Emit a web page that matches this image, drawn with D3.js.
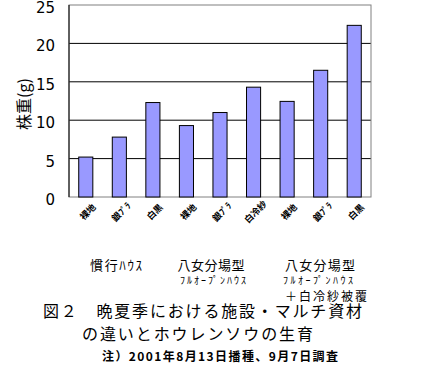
<!DOCTYPE html>
<html lang="ja">
<head>
<meta charset="UTF-8"/>
<script src="https://d3js.org/d3.v7.min.js"></script>
<style>
  body { margin: 0; background: #fff; }
  svg { display: block; font-family: "Noto Sans CJK JP", sans-serif; }
</style>
</head>
<body>
<svg id="chart" width="425" height="369"></svg>
<script>
// data
const categories = ["裸地", "銀ﾌﾟﾗ", "白黒", "裸地", "銀ﾌﾟﾗ", "白冷紗", "裸地", "銀ﾌﾟﾗ", "白黒"];
const values = [5.2, 7.8, 12.3, 9.3, 11.0, 14.3, 12.45, 16.5, 22.35];
const yTicks = [0, 5, 10, 15, 20, 25];
const groups = [
  ["慣行ﾊｳｽ"],
  ["八女分場型", "ﾌﾙｵｰﾌﾟﾝﾊｳｽ"],
  ["八女分場型", "ﾌﾙｵｰﾌﾟﾝﾊｳｽ", "＋白冷紗被覆"]
];

const svg = d3.select("#chart");
const pLeft = 69, pRight = 371, pTop = 5, pBottom = 197;

const x = d3.scaleBand().domain(d3.range(categories.length)).range([pLeft, pRight]).paddingInner(0.58).paddingOuter(0.29);
const y = d3.scaleLinear().domain([0, 25]).range([pBottom, pTop]);

// gridlines
svg.append("g").selectAll("line").data(yTicks.filter(d => d > 0 && d < 25)).join("line")
  .attr("x1", pLeft).attr("x2", pRight)
  .attr("y1", d => y(d)).attr("y2", d => y(d))
  .attr("stroke", "#000").attr("stroke-width", 1);

// frame
svg.append("rect").attr("x", pLeft).attr("y", pTop).attr("width", pRight - pLeft).attr("height", pBottom - pTop)
  .attr("fill", "none").attr("stroke", "#808080").attr("stroke-width", 1);
svg.append("line").attr("x1", pLeft).attr("x2", pLeft).attr("y1", pTop).attr("y2", pBottom)
  .attr("stroke", "#000");

// bars
svg.append("g").selectAll("rect").data(values).join("rect")
  .attr("x", (d, i) => x(i))
  .attr("y", d => y(d))
  .attr("width", x.bandwidth())
  .attr("height", d => pBottom - y(d))
  .attr("fill", "#9999ff").attr("stroke", "#000").attr("stroke-width", 1);

// y axis labels
const yAxis = svg.append("g").attr("transform", `translate(${pLeft},0)`)
  .call(d3.axisLeft(y).tickValues(yTicks).tickSize(0).tickPadding(14));
yAxis.select(".domain").remove();
yAxis.selectAll("text").attr("font-size", 15).attr("fill", "#000").attr("dy", "0.5em")
  .attr("font-family", "'DejaVu Sans', sans-serif");

svg.append("text").attr("transform", "translate(30,104) rotate(-90)")
  .attr("text-anchor", "middle").attr("font-size", 16).text("株重(g)");

// category labels (rotated)
svg.append("g").selectAll("text").data(categories).join("text")
  .attr("transform", (d, i) => `translate(${x(i) + x.bandwidth() / 2 + 2},${212}) rotate(-45)`)
  .attr("text-anchor", "middle").attr("dy", "0.35em")
  .attr("font-size", 9).attr("font-weight", "bold").text(d => d);

// group labels
const subX = [[116], [211, 213], [320, 318, 326]];
const subW = [[52], [67, 66], [70, 70, 82]];
const lineY = [270, 284, 301];
const lineF = [13, 10, 12];
groups.forEach((g, gi) => {
  g.forEach((t, li) => {
    svg.append("text").attr("x", subX[gi][li] - subW[gi][li] / 2).attr("y", lineY[li])
      .attr("font-size", lineF[li])
      .attr("textLength", subW[gi][li]).attr("lengthAdjust", "spacing")
      .text(t);
  });
});

// title
svg.append("text").attr("x", 43).attr("y", 317).attr("font-size", 16)
  .attr("textLength", 319).attr("lengthAdjust", "spacing")
  .text("図２　晩夏季における施設・マルチ資材");
svg.append("text").attr("x", 82).attr("y", 340).attr("font-size", 16)
  .attr("textLength", 231).attr("lengthAdjust", "spacing")
  .text("の違いとホウレンソウの生育");
svg.append("text").attr("x", 102).attr("y", 361).attr("font-size", 12).attr("font-weight", "bold")
  .attr("textLength", 236).attr("lengthAdjust", "spacing")
  .text("注）2001年8月13日播種、9月7日調査");
</script>
</body>
</html>
